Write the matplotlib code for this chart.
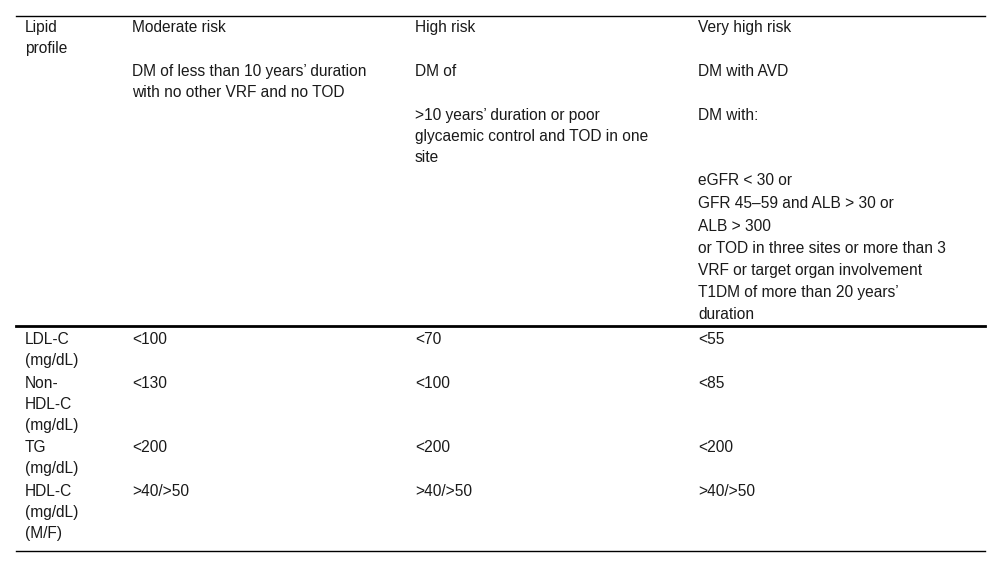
import matplotlib.pyplot as plt

# ---------- table content ----------
header_cols = ['Lipid\nprofile', 'Moderate risk', 'High risk', 'Very high risk']

moderate_lines = ["DM of less than 10 years\u2019 duration", 'with no other VRF and no TOD']
high_lines = ['DM of', '>10 years\u2019 duration or poor\nglycaemic control and TOD in one\nsite']
very_high_lines = ['DM with AVD', 'DM with:']
very_high_criteria = [
  'eGFR < 30 or',
  'GFR 45\u201359 and ALB > 30 or',
  'ALB > 300',
  'or TOD in three sites or more than 3',
  'VRF or target organ involvement',
  'T1DM of more than 20 years\u2019',
  'duration',
]

row_labels = ['LDL-C\n(mg/dL)', 'Non-\nHDL-C\n(mg/dL)', 'TG\n(mg/dL)', 'HDL-C\n(mg/dL)\n(M/F)']
moderate_vals = ['<100', '<130', '<200', '>40/>50']
high_vals = ['<70', '<100', '<200', '>40/>50']
very_high_vals = ['<55', '<85', '<200', '>40/>50']

# ---------- layout (pixels) ----------
col_x = [25, 132, 415, 698]
row_y = [339, 383, 447, 491]
FS = 11.2
LS = 1.5
TXT = '#1a1a1a'

fig = plt.figure(figsize=(10, 5.67), dpi=100)
ax = fig.add_axes([0, 0, 1, 1])
ax.set_xlim(0, 1000)
ax.set_ylim(567, 0)
ax.axis('off')

def put(x, y, s):
  # y = centre of the first line of text
  ax.text(x, y - 7, s, fontsize=FS, family='Liberation Sans', color=TXT,
          va='top', ha='left', linespacing=LS)

# rules
ax.plot([16, 985], [16, 16], color='black', lw=1)
ax.plot([16, 985], [326, 326], color='black', lw=2)
ax.plot([16, 985], [551, 551], color='black', lw=1)

# header row
for x, h in zip(col_x, header_cols):
  put(x, 27, h)

put(col_x[1], 71, '\n'.join(moderate_lines))
put(col_x[2], 71, high_lines[0])
put(col_x[2], 115, high_lines[1])
put(col_x[3], 71, very_high_lines[0])
put(col_x[3], 115, very_high_lines[1])

crit_y = [180, 203, 226, 248, 270, 292, 314]
for y, s in zip(crit_y, very_high_criteria):
  put(col_x[3], y, s)

# body rows
for i, y in enumerate(row_y):
  put(col_x[0], y, row_labels[i])
  put(col_x[1], y, moderate_vals[i])
  put(col_x[2], y, high_vals[i])
  put(col_x[3], y, very_high_vals[i])

fig.savefig('out.png', dpi=100)
